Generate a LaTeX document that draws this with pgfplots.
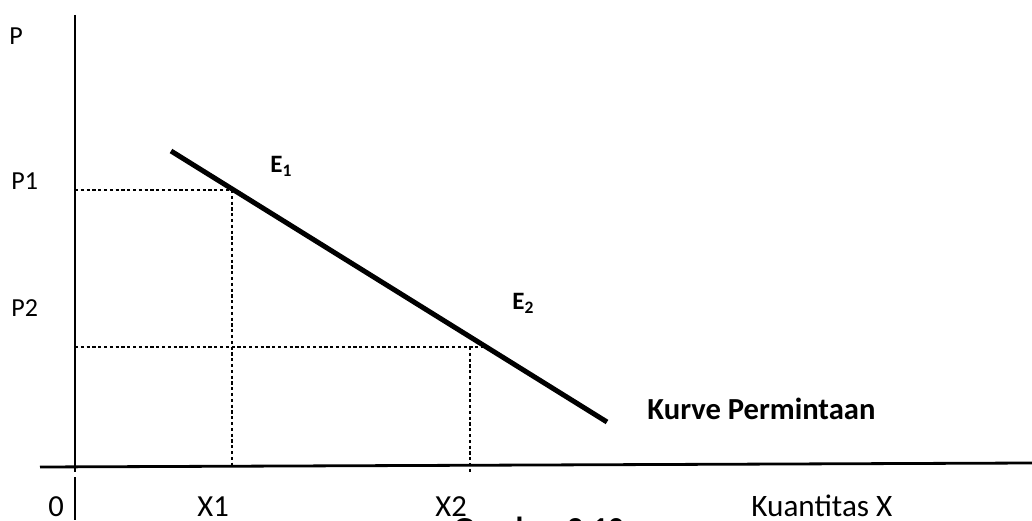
\documentclass[border=0pt]{standalone}
\usepackage{fontspec}
\setmainfont{Carlito}
\usepackage{pgfplots}
\pgfplotsset{compat=1.18}
\begin{document}
\begin{tikzpicture}
\useasboundingbox (0,0) rectangle (516pt,260pt);
\clip (0,0) rectangle (516pt,260pt);
\begin{axis}[at={(0,0)}, anchor=south west, scale only axis, width=516pt, height=260pt,
  xmin=0, xmax=1032, ymin=0, ymax=520, hide axis, clip=false]
% axes
\addplot[black, line width=1pt] coordinates {(75,505) (75,48)};
\addplot[black, line width=1pt] coordinates {(75,43) (75,0)};
\addplot[black, line width=1.4pt] coordinates {(40,53) (1032,57)};
% demand curve
\addplot[black, line width=2.5pt] coordinates {(171,369) (607,98)};
% dotted guides
\addplot[black, line width=1.4pt, dash pattern=on 1.6pt off 1.3pt] coordinates {(75,330) (232,330)};
\addplot[black, line width=1.4pt, dash pattern=on 1.6pt off 1.3pt] coordinates {(232,330) (232,53)};
\addplot[black, line width=1.4pt, dash pattern=on 1.6pt off 1.3pt] coordinates {(75,173) (485,173)};
\addplot[black, line width=1.4pt, dash pattern=on 1.6pt off 1.3pt] coordinates {(470,173) (470,48)};
% labels
\node[anchor=base west, inner sep=0pt, font=\fontsize{13}{15}\selectfont] at (axis cs:9,475) {P};
\node[anchor=base west, inner sep=0pt, font=\fontsize{13}{15}\selectfont] at (axis cs:11,330) {P1};
\node[anchor=base west, inner sep=0pt, font=\fontsize{13}{15}\selectfont] at (axis cs:11,203) {P2};
\node[anchor=base west, inner sep=0pt, font=\bfseries\fontsize{12.5}{15}\selectfont] at (axis cs:270,347) {E\textsubscript{1}};
\node[anchor=base west, inner sep=0pt, font=\bfseries\fontsize{12.5}{15}\selectfont] at (axis cs:512,210) {E\textsubscript{2}};
\node[anchor=base west, inner sep=0pt, font=\bfseries\fontsize{15.3}{18}\selectfont] at (axis cs:647,101) {Kurve Permintaan};
\node[anchor=base west, inner sep=0pt, font=\fontsize{15.3}{18}\selectfont] at (axis cs:48,4) {0};
\node[anchor=base west, inner sep=0pt, font=\fontsize{15.3}{18}\selectfont] at (axis cs:197,4) {X1};
\node[anchor=base west, inner sep=0pt, font=\fontsize{15.3}{18}\selectfont] at (axis cs:435,4) {X2};
\node[anchor=base west, inner sep=0pt, font=\fontsize{15.6}{18}\selectfont] at (axis cs:751,4) {Kuantitas X};
\node[anchor=base west, inner sep=0pt, font=\bfseries\fontsize{16}{19}\selectfont] at (axis cs:453,-19) {Gambar 2.10};
\end{axis}
\end{tikzpicture}
\end{document}
